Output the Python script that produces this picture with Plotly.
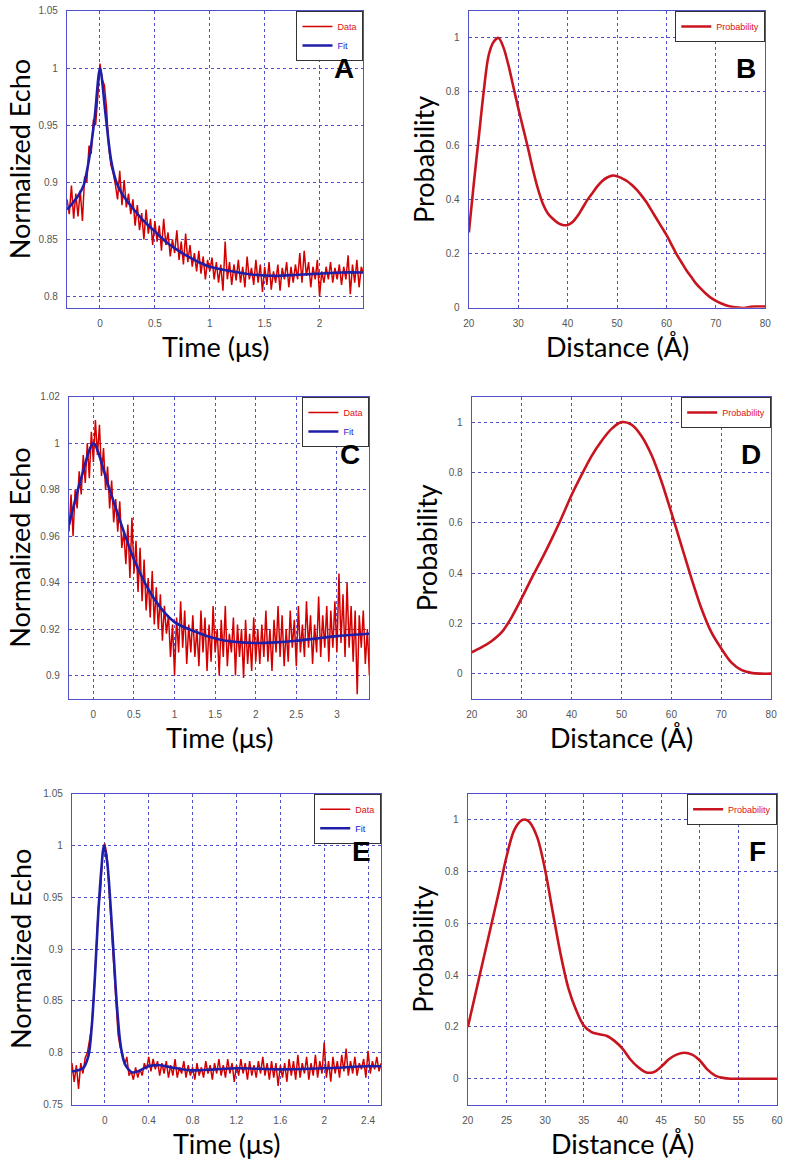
import numpy as np
import plotly.graph_objects as go

W, H = 789, 1166

# ---------------- Panel A (echo) ----------------
a_t0, a_dt = -0.30, 0.02
a_data = [0.885, 0.872, 0.897, 0.868, 0.890, 0.870, 0.893, 0.866, 0.905, 0.900,
          0.932, 0.925, 0.955, 0.950, 0.975, 1.004, 0.990, 0.985, 0.965, 0.930,
          0.915, 0.908, 0.898, 0.885, 0.910, 0.880, 0.902, 0.878, 0.890, 0.872,
          0.885, 0.862, 0.880, 0.858, 0.873, 0.850, 0.876, 0.855, 0.868, 0.845,
          0.866, 0.848, 0.862, 0.840, 0.868, 0.845, 0.856, 0.835, 0.850, 0.838,
          0.858, 0.832, 0.848, 0.828, 0.855, 0.830, 0.845, 0.826, 0.838, 0.822,
          0.840, 0.820, 0.835, 0.815, 0.832, 0.822, 0.834, 0.815, 0.830, 0.812,
          0.828, 0.805, 0.848, 0.815, 0.830, 0.810, 0.828, 0.814, 0.832, 0.812,
          0.826, 0.808, 0.835, 0.815, 0.825, 0.810, 0.832, 0.812, 0.828, 0.804,
          0.826, 0.810, 0.830, 0.806, 0.822, 0.812, 0.828, 0.805, 0.825, 0.815,
          0.830, 0.808, 0.826, 0.812, 0.828, 0.815, 0.838, 0.812, 0.840, 0.818,
          0.830, 0.808, 0.826, 0.815, 0.832, 0.800, 0.822, 0.812, 0.826, 0.815,
          0.830, 0.812, 0.825, 0.815, 0.828, 0.810, 0.826, 0.815, 0.836, 0.802,
          0.828, 0.812, 0.832, 0.808, 0.826, 0.820]
a_fit_t = [-0.3, -0.2, -0.15, -0.1, -0.05, 0.0, 0.05, 0.1, 0.15, 0.2, 0.3, 0.4, 0.5,
           0.6, 0.7, 0.8, 0.9, 1.0, 1.2, 1.4, 1.6, 1.8, 2.0, 2.2, 2.4]
a_fit = [0.876, 0.888, 0.897, 0.920, 0.955, 1.000, 0.960, 0.920, 0.900, 0.890, 0.877,
         0.866, 0.857, 0.848, 0.841, 0.835, 0.830, 0.826, 0.822, 0.819, 0.818, 0.819,
         0.820, 0.821, 0.821]

# ---------------- Panel B (distance) ----------------
b_r = [20, 21, 22, 23, 24, 25, 26, 27, 28, 29, 30, 31, 32, 33, 34, 35, 36, 37, 38, 39,
       40, 41, 42, 43, 44, 45, 46, 47, 48, 49, 50, 51, 52, 53, 54, 55, 56, 57, 58, 59,
       60, 61, 62, 63, 64, 65, 66, 67, 68, 69, 70, 71, 72, 73, 74, 75, 76, 77, 78, 80]
b_p = [0.28, 0.46, 0.63, 0.80, 0.935, 0.985, 1.0, 0.965, 0.90, 0.82, 0.74, 0.665, 0.59,
       0.51, 0.44, 0.385, 0.35, 0.33, 0.315, 0.307, 0.307, 0.318, 0.34, 0.37, 0.40,
       0.425, 0.45, 0.47, 0.483, 0.49, 0.488, 0.48, 0.47, 0.455, 0.437, 0.415, 0.39,
       0.36, 0.33, 0.30, 0.27, 0.235, 0.20, 0.17, 0.14, 0.115, 0.09, 0.07, 0.052, 0.037,
       0.026, 0.017, 0.010, 0.005, 0.002, 0.0, 0.0, 0.004, 0.005, 0.005]

# ---------------- Panel C (echo) ----------------
c_t0, c_dt = -0.30, 0.025
c_data = [0.962, 0.978, 0.960, 0.980, 0.972, 0.988, 0.978, 0.995, 0.983, 1.000,
          0.985, 1.005, 0.992, 1.010, 0.995, 1.008, 0.986, 0.998, 0.980, 0.990,
          0.972, 0.984, 0.966, 0.976, 0.962, 0.975, 0.955, 0.962, 0.948, 0.965,
          0.942, 0.968, 0.944, 0.958, 0.936, 0.955, 0.932, 0.950, 0.928, 0.942,
          0.925, 0.945, 0.922, 0.938, 0.920, 0.935, 0.915, 0.930, 0.918, 0.926,
          0.908, 0.922, 0.900, 0.925, 0.910, 0.932, 0.912, 0.928, 0.905, 0.922,
          0.910, 0.926, 0.908, 0.920, 0.904, 0.928, 0.910, 0.925, 0.902, 0.922,
          0.906, 0.930, 0.910, 0.920, 0.900, 0.924, 0.908, 0.930, 0.904, 0.918,
          0.910, 0.925, 0.900, 0.922, 0.908, 0.920, 0.899, 0.924, 0.905, 0.918,
          0.902, 0.925, 0.906, 0.920, 0.905, 0.922, 0.908, 0.928, 0.906, 0.920,
          0.902, 0.924, 0.910, 0.930, 0.908, 0.926, 0.904, 0.920, 0.906, 0.928,
          0.912, 0.924, 0.904, 0.930, 0.910, 0.922, 0.908, 0.932, 0.912, 0.926,
          0.905, 0.922, 0.910, 0.934, 0.908, 0.926, 0.912, 0.930, 0.906, 0.928,
          0.912, 0.932, 0.910, 0.944, 0.914, 0.935, 0.908, 0.940, 0.912, 0.930,
          0.906, 0.928, 0.892, 0.926, 0.912, 0.928, 0.905, 0.920, 0.900]
c_fit_t = [-0.3, -0.15, 0.0, 0.2, 0.5, 0.75, 1.0, 1.25, 1.5, 1.75, 2.0, 2.25, 2.5,
           2.75, 3.0, 3.25, 3.4]
c_fit = [0.965, 0.985, 1.000, 0.980, 0.950, 0.933, 0.923, 0.919, 0.916, 0.9145,
         0.914, 0.9143, 0.915, 0.916, 0.917, 0.9177, 0.918]

# ---------------- Panel D (distance) ----------------
d_r = [20, 22, 24, 26, 28, 30, 32, 34, 36, 38, 40, 42, 44, 46, 48, 50, 52, 54, 56,
       58, 60, 62, 64, 66, 68, 70, 72, 74, 76, 78, 80]
d_p = [0.085, 0.105, 0.13, 0.165, 0.225, 0.30, 0.38, 0.455, 0.535, 0.62, 0.71, 0.79,
       0.865, 0.925, 0.973, 1.0, 0.99, 0.945, 0.87, 0.765, 0.64, 0.51, 0.38, 0.26,
       0.165, 0.10, 0.045, 0.015, 0.003, 0.0, 0.0]

# ---------------- Panel E (echo) ----------------
e_t0, e_dt = -0.30, 0.02
e_data = [0.790, 0.772, 0.788, 0.765, 0.790, 0.780, 0.795, 0.800, 0.812, 0.826,
          0.855, 0.895, 0.940, 0.955, 0.995, 1.002, 0.990, 0.955, 0.920, 0.880,
          0.855, 0.818, 0.805, 0.800, 0.788, 0.796, 0.778, 0.782, 0.774, 0.786,
          0.776, 0.784, 0.778, 0.790, 0.784, 0.796, 0.782, 0.794, 0.784, 0.792,
          0.778, 0.790, 0.780, 0.792, 0.776, 0.788, 0.778, 0.794, 0.776, 0.786,
          0.780, 0.792, 0.776, 0.788, 0.778, 0.786, 0.774, 0.790, 0.778, 0.786,
          0.776, 0.792, 0.780, 0.788, 0.774, 0.790, 0.780, 0.794, 0.778, 0.788,
          0.776, 0.794, 0.780, 0.790, 0.772, 0.788, 0.778, 0.794, 0.780, 0.790,
          0.774, 0.792, 0.778, 0.788, 0.776, 0.792, 0.780, 0.796, 0.778, 0.790,
          0.774, 0.792, 0.776, 0.790, 0.768, 0.788, 0.776, 0.790, 0.772, 0.794,
          0.778, 0.792, 0.774, 0.798, 0.776, 0.790, 0.780, 0.796, 0.774, 0.790,
          0.778, 0.798, 0.776, 0.792, 0.780, 0.810, 0.776, 0.792, 0.772, 0.796,
          0.780, 0.792, 0.776, 0.798, 0.782, 0.804, 0.778, 0.792, 0.780, 0.796,
          0.778, 0.790, 0.784, 0.794, 0.776, 0.802, 0.780, 0.792, 0.784, 0.796,
          0.782, 0.790]
e_fit_t = [-0.3, -0.2, -0.15, -0.12, -0.09, -0.06, -0.03, -0.01, 0.02, 0.05, 0.08,
           0.11, 0.14, 0.17, 0.2, 0.25, 0.3, 0.4, 0.5, 0.6, 0.8, 1.0, 1.2, 1.6, 2.0,
           2.4, 2.52]
e_fit = [0.782, 0.785, 0.797, 0.825, 0.875, 0.935, 0.980, 1.000, 0.985, 0.945, 0.895,
         0.845, 0.810, 0.793, 0.786, 0.781, 0.782, 0.787, 0.788, 0.786, 0.783, 0.784,
         0.785, 0.784, 0.785, 0.787, 0.787]

# ---------------- Panel F (distance) ----------------
f_r = [20, 21, 22, 23, 24, 25, 26, 27, 27.5, 28, 29, 30, 31, 32, 33, 34, 35, 36, 37,
       38, 39, 40, 41, 42, 43, 44, 45, 46, 47, 48, 49, 50, 51, 52, 53, 54, 56, 58, 60]
f_p = [0.20, 0.33, 0.46, 0.59, 0.72, 0.857, 0.96, 0.998, 1.0, 0.99, 0.93, 0.805, 0.64,
       0.48, 0.35, 0.265, 0.205, 0.18, 0.172, 0.165, 0.145, 0.116, 0.075, 0.045, 0.025,
       0.025, 0.046, 0.075, 0.093, 0.10, 0.093, 0.07, 0.035, 0.012, 0.003, 0.0, 0.0,
       0.0, 0.0]

panel_letters = ["A", "B", "C", "D", "E", "F"]
echo_title = "Normalized Echo"
time_title = "Time (\u03bcs)"
prob_title = "Probability"
dist_title = "Distance (\u00c5)"

# ---------------- styling / layout constants ----------------
RED = "#d40000"
PRED = "#c8141e"
BLUE = "#1e1ea8"
FRAME = "#5050c8"
GRID = "#5050c8"
TICKC = "#555555"

# plot boxes in page pixels: (left, right, top, bottom)
boxes = [(62, 363, 5, 305), (470, 771, 5, 305),
         (64, 369, 395, 700), (473, 777, 395, 700),
         (67, 381, 796, 1110), (469, 783, 796, 1110)]

def px(x):
    return x / W

def py(y):
    return 1 - y / H

fig = go.Figure()

def data_name(txt, col):
    return f"<span style='color:{col}'>{txt}</span>"

echo_sets = [
    (a_t0, a_dt, a_data, a_fit_t, a_fit),
    (c_t0, c_dt, c_data, c_fit_t, c_fit),
    (e_t0, e_dt, e_data, e_fit_t, e_fit),
]
prob_sets = [(b_r, b_p), (d_r, d_p), (f_r, f_p)]

for row in range(3):
    t0, dt, yd, ft, fy = echo_sets[row]
    n = 2 * row + 1
    xa = "x" if n == 1 else f"x{n}"
    ya = "y" if n == 1 else f"y{n}"
    lg = "legend" if n == 1 else f"legend{n}"
    t = np.round(t0 + dt * np.arange(len(yd)), 4)
    fig.add_trace(go.Scatter(x=t, y=yd, mode="lines", name=data_name("Data", "#e01010"),
                             line=dict(color=RED, width=1.5), xaxis=xa, yaxis=ya, legend=lg))
    fig.add_trace(go.Scatter(x=ft, y=fy, mode="lines", name=data_name("Fit", "#2020d0"),
                             line=dict(color=BLUE, width=2.6, shape="spline", smoothing=0.8),
                             xaxis=xa, yaxis=ya, legend=lg))
    r, p = prob_sets[row]
    n2 = 2 * row + 2
    fig.add_trace(go.Scatter(x=r, y=p, mode="lines", name=data_name("Probability", "#e01010"),
                             line=dict(color=PRED, width=2.6, shape="spline", smoothing=0.9),
                             xaxis=f"x{n2}", yaxis=f"y{n2}", legend=f"legend{n2}"))

axis_specs = [
    # (xrange, xdtick, xtick0, yrange, ydtick, ytick0)
    ([-0.3, 2.4], 0.5, 0, [0.79, 1.05], 0.05, 0.8),
    ([20, 80], 10, 20, [0, 1.1], 0.2, 0),
    ([-0.3, 3.4], 0.5, 0, [0.89, 1.02], 0.02, 0.9),
    ([20, 80], 10, 20, [-0.1, 1.1], 0.2, 0),
    ([-0.3, 2.52], 0.4, 0, [0.75, 1.05], 0.05, 0.75),
    ([20, 60], 5, 20, [-0.1, 1.1], 0.2, 0),
]

layout = dict(width=W, height=H, margin=dict(l=0, r=0, t=0, b=0),
              paper_bgcolor="white", plot_bgcolor="white", showlegend=True)

tickfont = dict(family="Liberation Sans, Arial, sans-serif", size=10, color=TICKC)
for i, (box, spec) in enumerate(zip(boxes, axis_specs)):
    n = i + 1
    l, r, tp, bt = box
    xr, xd, x0, yr, yd, y0 = spec
    xk = "xaxis" if n == 1 else f"xaxis{n}"
    yk = "yaxis" if n == 1 else f"yaxis{n}"
    common = dict(showline=True, linecolor=FRAME, linewidth=1.4, mirror=True,
                  showgrid=True, gridcolor=GRID, gridwidth=1, griddash="dot",
                  zeroline=False, ticks="", tickfont=tickfont, fixedrange=True)
    layout[xk] = dict(domain=[px(l), px(r)], range=xr, dtick=xd, tick0=x0,
                      anchor="y" if n == 1 else f"y{n}", ticklabelstandoff=6, **common)
    layout[yk] = dict(domain=[py(bt), py(tp)], range=yr, dtick=yd, tick0=y0,
                      anchor="x" if n == 1 else f"x{n}", ticklabelstandoff=6, **common)
    lg = "legend" if n == 1 else f"legend{n}"
    layout[lg] = dict(x=px(r), y=py(tp), xanchor="right", yanchor="top",
                      bgcolor="white", bordercolor="#333333", borderwidth=1,
                      font=dict(family="Liberation Sans, Arial, sans-serif", size=9),
                      itemwidth=30, tracegroupgap=0)

fig.update_layout(**layout)

# axis titles and panel letters
title_font = dict(family="Lato, 'Open Sans', sans-serif", size=27, color="black")
letter_font = dict(family="Liberation Sans, Arial, sans-serif", size=28, color="black")
ann = []
for i, box in enumerate(boxes):
    l, r, tp, bt = box
    echo = (i % 2 == 0)
    xt = time_title if echo else dist_title
    yt = echo_title if echo else prob_title
    ann.append(dict(text=xt, x=px((l + r) / 2), y=py(bt + 39), xref="paper", yref="paper",
                    showarrow=False, font=title_font, xanchor="center", yanchor="middle"))
    ylabx = 14 if echo else (l - 46)
    ann.append(dict(text=yt, x=px(ylabx), y=py((tp + bt) / 2), xref="paper", yref="paper",
                    showarrow=False, font=title_font, textangle=-90,
                    xanchor="center", yanchor="middle"))
    ann.append(dict(text=f"<b>{panel_letters[i]}</b>", x=px(r - 20), y=py(tp + 58),
                    xref="paper", yref="paper", showarrow=False, font=letter_font,
                    xanchor="center", yanchor="middle"))
fig.update_layout(annotations=ann)

# the page's default 8px body margin would shift the figure; remove it
fig.write_html("out.html", config={"displayModeBar": False},
               post_script="document.body.style.margin='0';document.body.style.overflow='hidden';")
